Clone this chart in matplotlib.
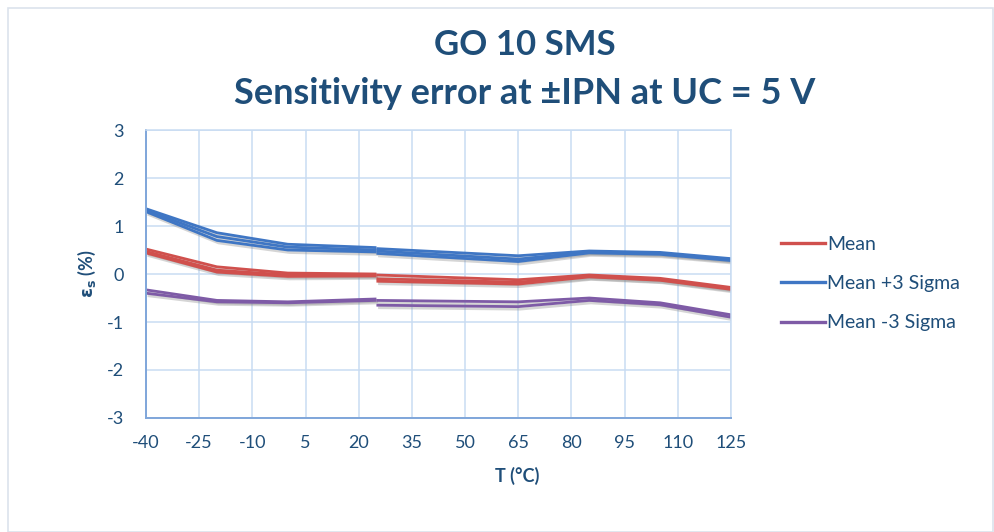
import matplotlib
matplotlib.use("Agg")
import matplotlib.pyplot as plt
import matplotlib.patheffects as pe
from matplotlib.lines import Line2D
from matplotlib.patches import Rectangle

plt.rcParams['font.family'] = ['Lato', 'DejaVu Sans']

# ---- data ----
temps_low = [-40, -20, 0, 25]
temps_high = [25, 65, 85, 105, 125]

mean_low = [[0.52, 0.15, 0.02, 0.00],
            [0.47, 0.08, -0.02, -0.02],
            [0.44, 0.04, -0.05, -0.04]]
mean_high = [[-0.02, -0.12, -0.02, -0.09, -0.28],
             [-0.10, -0.17, -0.05, -0.12, -0.30],
             [-0.15, -0.21, -0.06, -0.13, -0.32]]

plus_low = [[1.36, 0.86, 0.62, 0.55],
            [1.33, 0.78, 0.56, 0.50],
            [1.30, 0.70, 0.50, 0.46]]
plus_high = [[0.53, 0.38, 0.48, 0.45, 0.32],
             [0.48, 0.31, 0.46, 0.43, 0.30],
             [0.43, 0.26, 0.44, 0.41, 0.28]]

minus_low = [[-0.33, -0.55, -0.58, -0.52],
             [-0.40, -0.58, -0.60, -0.55]]
minus_high = [[-0.55, -0.58, -0.50, -0.60, -0.85],
              [-0.65, -0.68, -0.55, -0.64, -0.90]]

x_ticks = [-40, -25, -10, 5, 20, 35, 50, 65, 80, 95, 110, 125]
y_ticks = [-3, -2, -1, 0, 1, 2, 3]
series_names = ['Mean', 'Mean +3 Sigma', 'Mean -3 Sigma']

# ---- style ----
c_mean = '#D0504D'
c_plus = '#3F76C4'
c_minus = '#7E5BA6'
txt = '#1F4E79'
grid_c = '#C9DCF2'

fig = plt.figure(figsize=(9.95, 5.32), dpi=100)
fig.patches.append(Rectangle((0.008, 0.0), 0.99, 0.985, transform=fig.transFigure,
                             fill=False, edgecolor='#DCE3EC', lw=1.2))

ax = fig.add_axes([0.1467, 0.2143, 0.588, 0.5413])

shadow = [pe.SimpleLineShadow(offset=(1.2, -1.8), shadow_color='#888888', alpha=0.35),
          pe.Normal()]

for gx, grp, col in [(temps_low, plus_low, c_plus), (temps_high, plus_high, c_plus),
                     (temps_low, mean_low, c_mean), (temps_high, mean_high, c_mean),
                     (temps_low, minus_low, c_minus), (temps_high, minus_high, c_minus)]:
    for ys in grp:
        ax.plot(gx, ys, color=col, lw=2.0, path_effects=shadow,
                solid_joinstyle='round', solid_capstyle='butt')

ax.set_xlim(-40, 125)
ax.set_ylim(-3, 3)
ax.set_xticks(x_ticks)
ax.set_yticks(y_ticks)
ax.set_xticklabels([str(t) for t in x_ticks])
ax.set_yticklabels([str(t) for t in y_ticks])
ax.tick_params(axis='both', length=0, colors=txt, labelsize=13)
ax.tick_params(axis='x', pad=12)
ax.tick_params(axis='y', pad=16)
ax.grid(True, color=grid_c, lw=1.1)
ax.set_axisbelow(True)
for s in ['top', 'right']:
    ax.spines[s].set_color(grid_c)
    ax.spines[s].set_linewidth(1.1)
for s in ['left', 'bottom']:
    ax.spines[s].set_color('#7FA6DA')
    ax.spines[s].set_linewidth(1.4)

ax.set_xlabel('T (°C)', color=txt, fontsize=13, fontweight='bold')
ax.xaxis.set_label_coords(0.634, -0.17)
ax.set_ylabel(r'$\mathbf{\varepsilon_s}$ (%)', color=txt, fontsize=13,
              fontweight='bold', labelpad=6)

fig.text(0.527, 0.915, 'GO 10 SMS', ha='center', va='center', color=txt,
         fontsize=25, fontweight='bold')
fig.text(0.527, 0.824, 'Sensitivity error at ±IPN at UC = 5 V', ha='center',
         va='center', color=txt, fontsize=26, fontweight='bold')

handles = [Line2D([0], [0], color=c, lw=2.4) for c in (c_mean, c_plus, c_minus)]
leg = fig.legend(handles, series_names, loc='upper left',
                 bbox_to_anchor=(0.767, 0.590), frameon=False, fontsize=14,
                 handlelength=2.3, handletextpad=0.1, labelspacing=1.15,
                 labelcolor=txt)

fig.savefig('out.png', dpi=100)
